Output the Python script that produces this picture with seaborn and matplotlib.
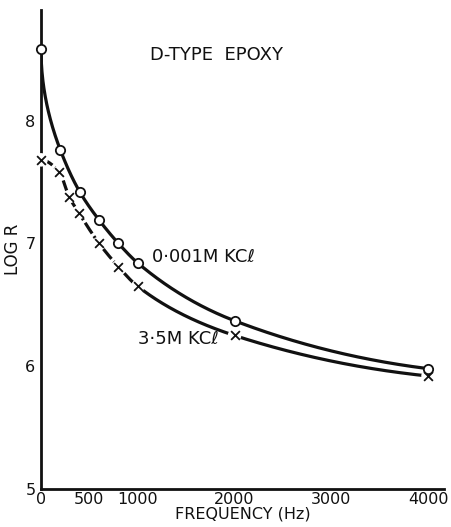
import numpy as np
import pandas as pd
import matplotlib
matplotlib.use("Agg")
import matplotlib.pyplot as plt
import seaborn as sns

# Data
freq_low = [0, 200, 400, 600, 800, 1000, 2000, 4000]          # 0.001M KCl (circles)
logr_low = [8.58, 7.76, 7.42, 7.19, 7.00, 6.84, 6.37, 5.98]
freq_high = [0, 190, 290, 390, 600, 800, 1000, 2000, 4000]     # 3.5M KCl (crosses)
logr_high = [7.68, 7.58, 7.38, 7.25, 7.00, 6.81, 6.65, 6.25, 5.92]
xticks = [0, 500, 1000, 2000, 3000, 4000]
yticks = [5, 6, 7, 8]


def pchip(x, y, xs):
    x = np.asarray(x, float); y = np.asarray(y, float)
    h = np.diff(x); d = np.diff(y) / h
    n = len(x); m = np.zeros(n)
    for k in range(1, n - 1):
        if d[k - 1] * d[k] > 0:
            w1 = 2 * h[k] + h[k - 1]; w2 = h[k] + 2 * h[k - 1]
            m[k] = (w1 + w2) / (w1 / d[k - 1] + w2 / d[k])
    def end(h0, h1, d0, d1):
        e = ((2 * h0 + h1) * d0 - h0 * d1) / (h0 + h1)
        if np.sign(e) != np.sign(d0):
            e = 0.0
        elif np.sign(d0) != np.sign(d1) and abs(e) > abs(3 * d0):
            e = 3 * d0
        return e
    m[0] = end(h[0], h[1], d[0], d[1])
    m[-1] = end(h[-1], h[-2], d[-1], d[-2])
    idx = np.clip(np.searchsorted(x, xs) - 1, 0, n - 2)
    t = (xs - x[idx]) / h[idx]
    h00 = 2 * t**3 - 3 * t**2 + 1; h10 = t**3 - 2 * t**2 + t
    h01 = -2 * t**3 + 3 * t**2; h11 = t**3 - t**2
    return h00 * y[idx] + h10 * h[idx] * m[idx] + h01 * y[idx + 1] + h11 * h[idx] * m[idx + 1]


sns.set_style("white")
plt.rcParams['font.family'] = ['DejaVu Sans']

fig = plt.figure(figsize=(4.51, 5.27), dpi=100)
ax = fig.add_axes([41 / 451, 38 / 527, 403 / 451, 479 / 527])

ink = "#111111"
lw = 2.3

xs = np.linspace(0, 4000, 1200)
# smooth curve through the circles (interpolated in sqrt(frequency) space)
ys_low = pchip(np.sqrt(freq_low), logr_low, np.sqrt(xs))
df_low = pd.DataFrame({"f": xs, "r": ys_low})
sns.lineplot(data=df_low, x="f", y="r", ax=ax, color=ink, lw=lw, zorder=2)

fh = np.array(freq_high, float); rh = np.array(logr_high, float)
xa = xs[xs <= 1000]
xb = xs[xs >= 1000]
ya = pchip(fh, rh, xa)
yb = pchip(np.sqrt(fh[fh >= 800]), rh[fh >= 800], np.sqrt(xb))
sns.lineplot(data=pd.DataFrame({"f": xa, "r": ya}), x="f", y="r", ax=ax,
             color=ink, lw=lw, zorder=2)
ax.lines[-1].set_dashes([4, 1.0])
sns.lineplot(data=pd.DataFrame({"f": xb, "r": yb}), x="f", y="r", ax=ax,
             color=ink, lw=lw, zorder=2)

# white halo under crosses to break the line, then the crosses
pts_high = pd.DataFrame({"f": freq_high, "r": logr_high})
sns.scatterplot(data=pts_high, x="f", y="r", ax=ax, marker="o", s=95,
                color="white", edgecolor="none", zorder=3, clip_on=False)
sns.scatterplot(data=pts_high, x="f", y="r", ax=ax, marker="x", s=40,
                color=ink, linewidth=1.3, zorder=4, clip_on=False)

pts_low = pd.DataFrame({"f": freq_low, "r": logr_low})
sns.scatterplot(data=pts_low, x="f", y="r", ax=ax, marker="o", s=45,
                facecolor="white", edgecolor=ink, linewidth=1.3, zorder=5, clip_on=False)

ax.set_xlim(0, 4165)
ax.set_ylim(5, 8.9)
ax.set_xticks(xticks)
ax.set_xticklabels([str(v) for v in xticks])
ax.set_yticks(yticks)
ax.set_yticklabels([str(v) for v in yticks])
ax.tick_params(direction="in", length=6.5, width=1.5, color=ink,
               labelsize=11.5, labelcolor=ink)
ax.tick_params(axis="x", pad=2)
ax.tick_params(axis="y", pad=4)

for s in ["top", "right"]:
    ax.spines[s].set_visible(False)
for s in ["left", "bottom"]:
    ax.spines[s].set_linewidth(2.0)
    ax.spines[s].set_color(ink)

ax.set_xlabel("FREQUENCY (Hz)", fontsize=11.5, color=ink, labelpad=-0.5)
ax.set_ylabel("LOG R", fontsize=12, color=ink, labelpad=2)

ax.text(1130, 8.53, "D-TYPE  EPOXY", fontsize=13, color=ink, ha="left", va="center")
ax.text(1150, 6.885, "0·001M KCℓ", fontsize=13, color=ink, ha="left", va="center")
ax.text(1000, 6.22, "3·5M KCℓ", fontsize=13, color=ink, ha="left", va="center")

fig.savefig("out.png", dpi=100, facecolor="white")
